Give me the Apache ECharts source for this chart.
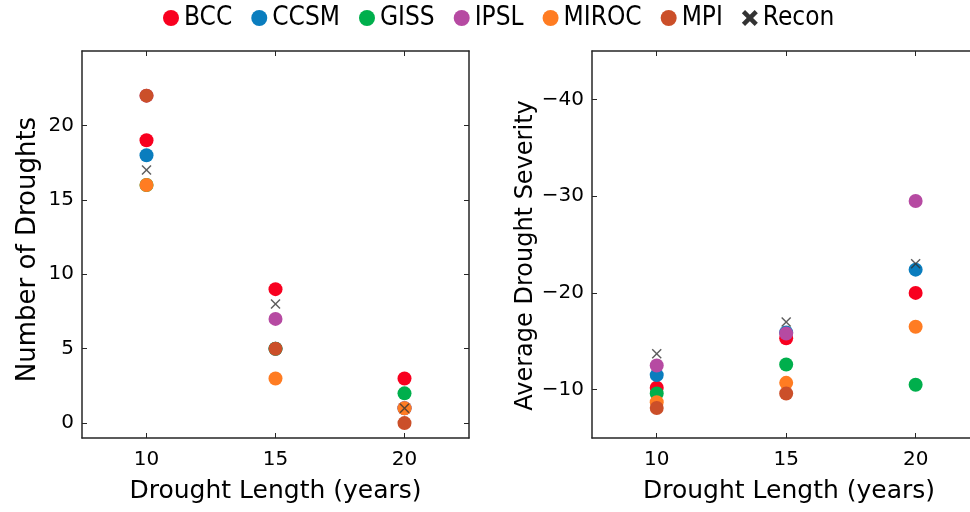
<!DOCTYPE html>
<html>
<head>
<meta charset="utf-8">
<script src="https://cdn.jsdelivr.net/npm/echarts@6/dist/echarts.min.js"></script>
<style>html,body{margin:0;padding:0;background:#fff;}#c{width:970px;height:512px;}</style>
</head>
<body>
<div id="c"></div>
<script>
// ---- data ----
const lengths = [10, 15, 20];
const models = ['BCC', 'CCSM', 'GISS', 'IPSL', 'MIROC', 'MPI'];
const countBCC   = [19, 9, 3];
const countCCSM  = [18, 5, 1];
const countGISS  = [16, 5, 2];
const countIPSL  = [22, 7, 1];
const countMIROC = [16, 3, 1];
const countMPI   = [22, 5, 0];
const countRecon = [17, 8, 1];
const sevBCC   = [-10.2, -15.3, -20.0];
const sevCCSM  = [-11.5, -15.9, -22.4];
const sevGISS  = [-9.6, -12.6, -10.5];
const sevIPSL  = [-12.5, -15.8, -29.5];
const sevMIROC = [-8.7, -10.7, -16.5];
const sevMPI   = [-8.1, -9.6, null];
const sevRecon = [-13.7, -17.0, -23.0];
const xTicks = [10, 15, 20];
const countTicks = [0, 5, 10, 15, 20];
const sevTicks = [-40, -30, -20, -10];

const colors = {BCC:'#F8001F', CCSM:'#0A7DBE', GISS:'#00AF4C', IPSL:'#B64AA2', MIROC:'#FF7C22', MPI:'#CB4F29'};
const counts = {BCC:countBCC, CCSM:countCCSM, GISS:countGISS, IPSL:countIPSL, MIROC:countMIROC, MPI:countMPI};
const sevs = {BCC:sevBCC, CCSM:sevCCSM, GISS:sevGISS, IPSL:sevIPSL, MIROC:sevMIROC, MPI:sevMPI};

const toPts = arr => lengths.map((x, i) => [x, arr[i]]).filter(p => p[1] !== null);
const xPath = 'path://M0,1L1,0L5,4L9,0L10,1L6,5L10,9L9,10L5,6L1,10L0,9L4,5Z';
const xPathBold = 'path://M0,2L2,0L5,3L8,0L10,2L7,5L10,8L8,10L5,7L2,10L0,8L3,5Z';

const font = 'DejaVu Sans';
const lineCol = '#262626';

function xAx(grid, pos, max, nameShift) {
  return {
    gridIndex: grid, type: 'value', min: 7.5, max: max, position: pos,
    axisLine: {show: true, onZero: false, lineStyle: {color: lineCol, width: 1.5}},
    axisTick: {show: true, inside: true, length: 5, customValues: xTicks, lineStyle: {color: lineCol, width: 1}},
    axisLabel: {show: pos === 'bottom', customValues: xTicks, margin: 12, fontFamily: font, fontSize: 20, color: '#000'},
    splitLine: {show: false},
    name: pos === 'bottom' ? 'Drought Length (years)' : '',
    nameLocation: 'middle', nameGap: 41,
    nameTextStyle: {fontFamily: font, fontSize: 25, color: '#000', padding: [0, 0, 0, nameShift || 0]}
  };
}
function yAx(grid, pos, min, max, ticks, inverse, name, gap, shift, fs, hide) {
  return {
    gridIndex: grid, type: 'value', min: min, max: max, position: pos, inverse: inverse,
    axisLine: {show: !hide, onZero: false, lineStyle: {color: lineCol, width: 1.5}},
    axisTick: {show: !hide, inside: true, length: 5, customValues: ticks, lineStyle: {color: lineCol, width: 1}},
    axisLabel: {show: pos === 'left', customValues: ticks, margin: 8, fontFamily: font, fontSize: 20, color: '#000',
      formatter: v => v < 0 ? '\u2212' + Math.abs(v) : String(v)},
    splitLine: {show: false},
    name: pos === 'left' ? name : '',
    nameLocation: 'middle', nameGap: gap,
    nameTextStyle: {fontFamily: font, fontSize: fs || 26, color: '#000', padding: [0, shift || 0, 0, 0]}
  };
}

const series = [];
models.forEach(m => {
  series.push({name: m, type: 'scatter', xAxisIndex: 0, yAxisIndex: 0, symbol: 'circle', symbolSize: 14,
    itemStyle: {color: colors[m], opacity: 1}, data: toPts(counts[m])});
  series.push({name: m, type: 'scatter', xAxisIndex: 2, yAxisIndex: 2, symbol: 'circle', symbolSize: 14,
    itemStyle: {color: colors[m], opacity: 1}, data: toPts(sevs[m])});
});
series.push({name: 'Recon', type: 'scatter', xAxisIndex: 0, yAxisIndex: 0, symbol: xPath, symbolSize: 10,
  itemStyle: {color: '#333'}, data: toPts(countRecon)});
series.push({name: 'Recon', type: 'scatter', xAxisIndex: 2, yAxisIndex: 2, symbol: xPath, symbolSize: 10,
  itemStyle: {color: '#333'}, data: toPts(sevRecon)});

const legendData = models.map(m => ({name: m, icon: 'circle', itemStyle: {color: colors[m]}}));
legendData.push({name: 'Recon', icon: xPathBold, itemStyle: {color: '#000'}});

const chart = echarts.init(document.getElementById('c'), null, {renderer: 'canvas'});
chart.setOption({
  animation: false,
  backgroundColor: '#fff',
  legend: {
    data: legendData, top: 0, left: 158, itemWidth: 16, itemHeight: 16, itemGap: 19,
    textStyle: {fontFamily: "'DejaVu Sans Condensed', 'Liberation Sans Narrow', 'DejaVu Sans'", fontSize: 26, color: '#000'},
    selectedMode: false
  },
  grid: [
    {left: 82, width: 387, top: 51, bottom: 74},
    {left: 592, right: 0, top: 51, bottom: 74}
  ],
  xAxis: [xAx(0, 'bottom', 22.5), xAx(0, 'top', 22.5), xAx(1, 'bottom', 22.1, 16), xAx(1, 'top', 22.1)],
  yAxis: [
    yAx(0, 'left', -1, 25, countTicks, false, 'Number of Droughts', 41, 10),
    yAx(0, 'right', -1, 25, countTicks, false, '', 0),
    yAx(1, 'left', -45, -5, sevTicks, true, 'Average Drought Severity', 52, 22, 24),
    yAx(1, 'right', -45, -5, sevTicks, true, '', 0, 0, 24, true)
  ],
  series: series
});
</script>
</body>
</html>
